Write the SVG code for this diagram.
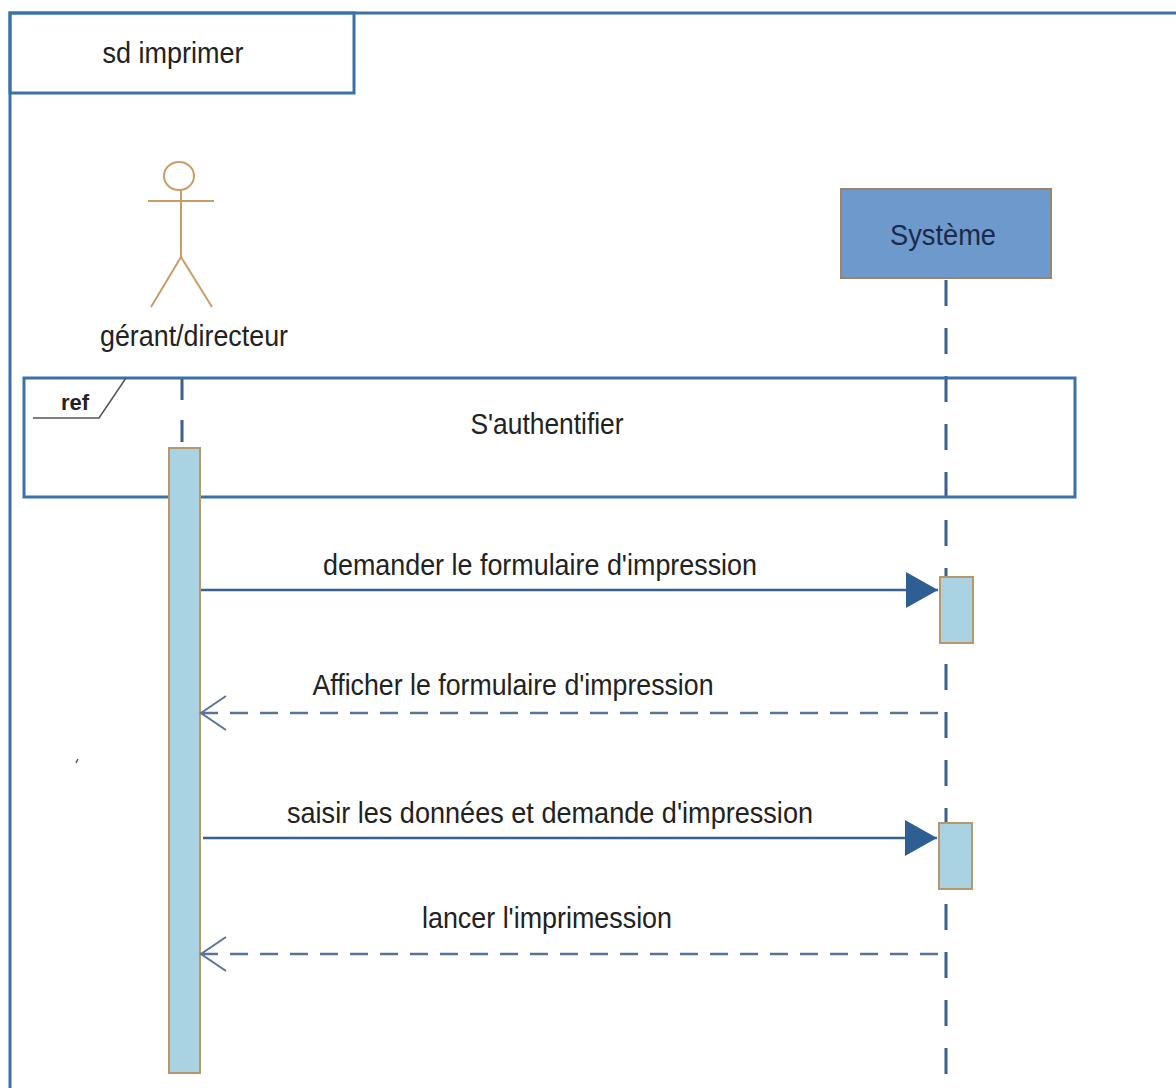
<svg xmlns="http://www.w3.org/2000/svg" width="1176" height="1088" viewBox="0 0 1176 1088">
<style>
text{font-family:"Liberation Sans",Arial,sans-serif;fill:#222;}
.lbl{font-size:30px;}
.frame{fill:none;stroke:#3a72a8;stroke-width:3;}
.life{stroke:#3d5f8a;stroke-width:3;stroke-dasharray:26 22;fill:none;}
.act{fill:#a9d3e3;stroke:#b8976c;stroke-width:2;}
.msg{stroke:#38618f;stroke-width:2.5;fill:none;}
.ret{stroke:#5a7396;stroke-width:2.5;stroke-dasharray:18 12;fill:none;}
.actor{stroke:#c99e66;stroke-width:2;fill:none;}
</style>
<defs>
<marker id="filled" markerUnits="userSpaceOnUse" markerWidth="34" markerHeight="36" refX="32" refY="18" orient="auto">
<path d="M0,0 L32,18 L0,36 Z" fill="#2f5f92"/>
</marker>
<marker id="open" markerUnits="userSpaceOnUse" markerWidth="30" markerHeight="40" refX="26" refY="18" orient="auto">
<path d="M1,1 L26,18 L1,35" fill="none" stroke="#5a7396" stroke-width="2"/>
</marker>
</defs>
<rect width="1176" height="1088" fill="#ffffff"/>
<g id="frame">
<path class="frame" d="M10,1090 L10,13 L1180,13"/>
<rect class="frame" x="10" y="13" width="344" height="80"/>
<text class="lbl" x="173" y="63" text-anchor="middle" textLength="141" lengthAdjust="spacingAndGlyphs">sd imprimer</text>
</g>
<g id="actor-gerant">
<ellipse class="actor" cx="179" cy="176" rx="15" ry="14"/>
<line class="actor" x1="148" y1="201" x2="214" y2="201"/>
<line class="actor" x1="181" y1="190" x2="181" y2="257"/>
<line class="actor" x1="181" y1="257" x2="151" y2="307"/>
<line class="actor" x1="181" y1="257" x2="212" y2="307"/>
<text class="lbl" x="194" y="346" text-anchor="middle" textLength="188" lengthAdjust="spacingAndGlyphs">gérant/directeur</text>
</g>
<g id="systeme">
<rect x="841" y="189" width="210" height="89" fill="#6e99cd" stroke="#9c8466" stroke-width="2"/>
<text class="lbl" x="943" y="245" text-anchor="middle" textLength="106" lengthAdjust="spacingAndGlyphs" style="fill:#1b2a48">Système</text>
</g>
<g id="lifelines">
<line class="life" x1="182" y1="378" x2="182" y2="448" style="stroke-dasharray:22 20"/>
<line class="life" x1="946" y1="280" x2="946" y2="1090"/>
</g>
<g id="ref-sauthentifier">
<rect class="frame" x="24" y="378" width="1051" height="119"/>
<path d="M33,418 L99,418 L126,378" fill="none" stroke="#555" stroke-width="1.5"/>
<text x="75" y="410" text-anchor="middle" font-size="22" font-weight="bold">ref</text>
<text class="lbl" x="547" y="434" text-anchor="middle" textLength="153" lengthAdjust="spacingAndGlyphs">S'authentifier</text>
</g>
<g id="activations">
<rect class="act" x="169" y="448" width="31" height="625"/>
<rect class="act" x="940" y="577" width="33" height="66"/>
<rect class="act" x="939" y="823" width="33" height="66"/>
</g>
<g id="connectors">
<line class="msg" x1="201" y1="590" x2="938" y2="590" marker-end="url(#filled)"/>
<line class="ret" x1="938" y1="713" x2="201" y2="713" marker-end="url(#open)"/>
<line class="msg" x1="203" y1="838" x2="937" y2="838" marker-end="url(#filled)"/>
<line class="ret" x1="938" y1="954" x2="201" y2="954" marker-end="url(#open)"/>
</g>
<g id="labels">
<text class="lbl" x="540" y="575" text-anchor="middle" textLength="434" lengthAdjust="spacingAndGlyphs">demander le formulaire d'impression</text>
<text class="lbl" x="513" y="695" text-anchor="middle" textLength="401" lengthAdjust="spacingAndGlyphs">Afficher le formulaire d'impression</text>
<text class="lbl" x="550" y="823" text-anchor="middle" textLength="526" lengthAdjust="spacingAndGlyphs">saisir les données et demande d'impression</text>
<text class="lbl" x="547" y="928" text-anchor="middle" textLength="250" lengthAdjust="spacingAndGlyphs">lancer l'imprimession</text>
</g>
<line x1="76" y1="763" x2="78" y2="759" stroke="#555" stroke-width="1.5"/>
</svg>
